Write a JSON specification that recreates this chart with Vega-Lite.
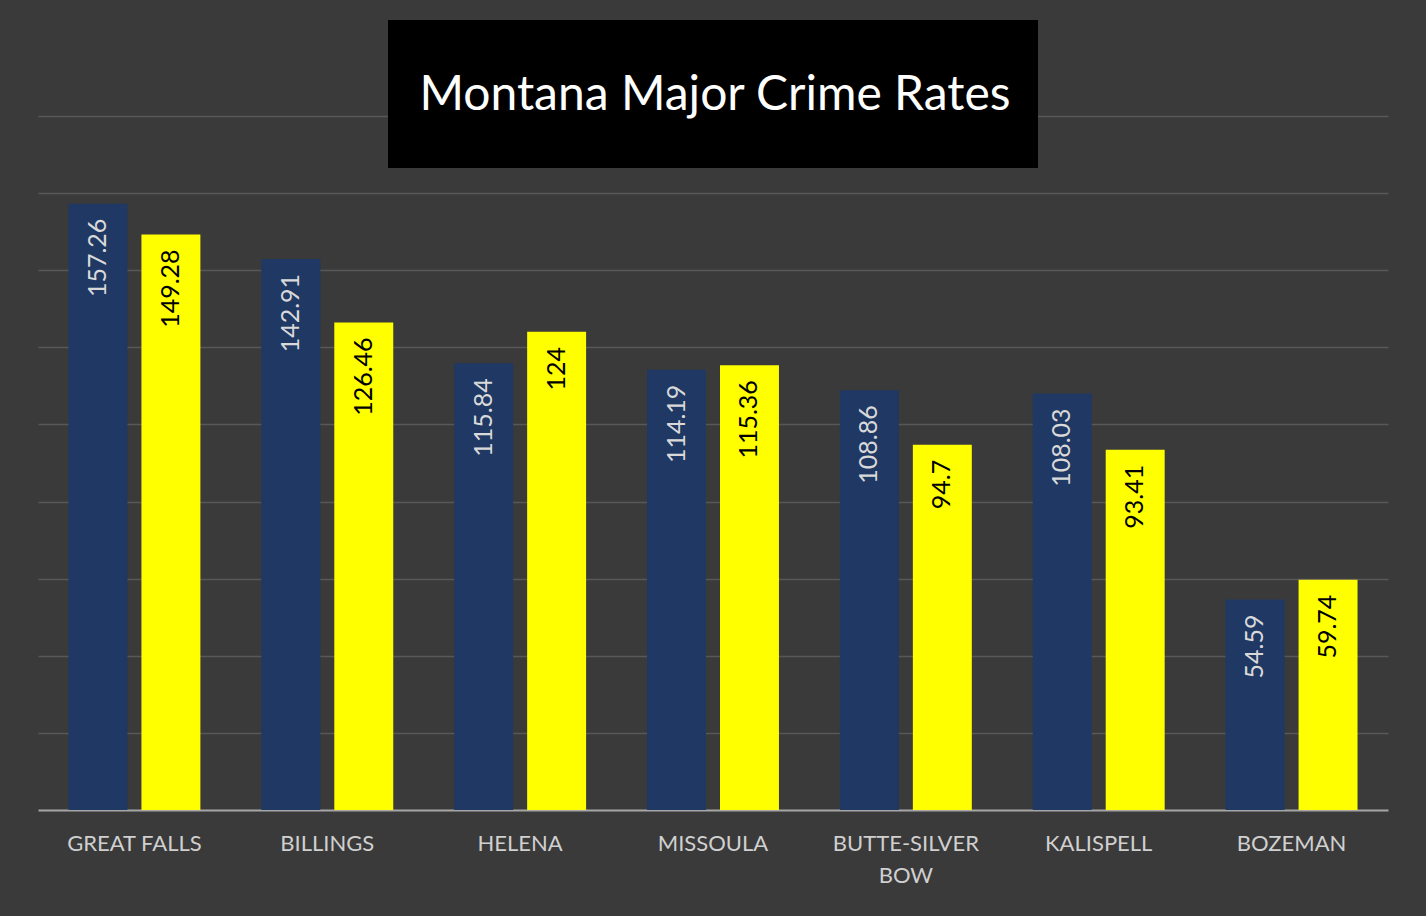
{
  "$schema": "https://vega.github.io/schema/vega-lite/v6.json",
  "background": "#3a3a3a",
  "padding": {"left": 38, "right": 38, "top": 20, "bottom": 40},
  "spacing": 0,
  "config": {"font": "Lato", "view": {"stroke": null}},
  "datasets": {
    "crime": [
      {"city": "GREAT FALLS", "series": "Series 1", "value": 157.26},
      {"city": "GREAT FALLS", "series": "Series 2", "value": 149.28},
      {"city": "BILLINGS", "series": "Series 1", "value": 142.91},
      {"city": "BILLINGS", "series": "Series 2", "value": 126.46},
      {"city": "HELENA", "series": "Series 1", "value": 115.84},
      {"city": "HELENA", "series": "Series 2", "value": 124},
      {"city": "MISSOULA", "series": "Series 1", "value": 114.19},
      {"city": "MISSOULA", "series": "Series 2", "value": 115.36},
      {"city": "BUTTE-SILVER BOW", "series": "Series 1", "value": 108.86},
      {"city": "BUTTE-SILVER BOW", "series": "Series 2", "value": 94.7},
      {"city": "KALISPELL", "series": "Series 1", "value": 108.03},
      {"city": "KALISPELL", "series": "Series 2", "value": 93.41},
      {"city": "BOZEMAN", "series": "Series 1", "value": 54.59},
      {"city": "BOZEMAN", "series": "Series 2", "value": 59.74}
    ],
    "title": [{"title": "Montana Major Crime Rates"}]
  },
  "vconcat": [
    {
      "width": 1350,
      "height": 148,
      "data": {"name": "title"},
      "encoding": {
        "x": {"field": "title", "type": "nominal", "scale": {"paddingInner": 0, "paddingOuter": 0.5385}, "axis": null}
      },
      "layer": [
        {
          "mark": {"type": "bar", "color": "#000000"},
          "encoding": {
            "y": {
              "datum": 204.9, "type": "quantitative",
              "scale": {"domain": [166.5, 204.9], "nice": false, "zero": false},
              "axis": {"title": null, "labels": false, "ticks": false, "domain": false, "grid": true, "gridColor": "#585858", "gridWidth": 1.5, "values": [180]}
            },
            "y2": {"datum": 166.5}
          }
        },
        {
          "mark": {"type": "text", "fontSize": 48, "color": "#ffffff", "font": "Lato", "baseline": "middle", "align": "center", "dy": 2, "dx": 2},
          "encoding": {"text": {"field": "title", "type": "nominal"}}
        }
      ]
    },
    {
      "width": 1350,
      "height": 642,
      "data": {"name": "crime"},
      "encoding": {
        "x": {
          "field": "city", "type": "nominal", "sort": null,
          "scale": {"paddingInner": 0.316, "paddingOuter": 0.158},
          "axis": {
            "title": null, "labelAngle": 0, "labelFontSize": 22, "labelColor": "#d0d0d0",
            "labelFont": "Lato", "labelPadding": 23, "ticks": false,
            "domainColor": "#a6a6a6", "domainWidth": 2, "grid": false,
            "labelLineHeight": 32, "labelBaseline": "top",
            "labelExpr": "datum.label == 'BUTTE-SILVER BOW' ? ['BUTTE-SILVER', 'BOW'] : datum.label"
          }
        },
        "xOffset": {"field": "series", "type": "nominal", "sort": null, "scale": {"paddingInner": 0.192, "paddingOuter": 0}},
        "y": {
          "field": "value", "type": "quantitative",
          "scale": {"domain": [0, 166.5], "nice": false},
          "axis": {
            "title": null, "labels": false, "ticks": false, "domain": false,
            "grid": true, "gridColor": "#585858", "gridWidth": 1.5,
            "values": [20, 40, 60, 80, 100, 120, 140, 160]
          }
        }
      },
      "layer": [
        {
          "mark": {"type": "bar"},
          "encoding": {
            "color": {"field": "series", "type": "nominal", "scale": {"range": ["#1f3864", "#ffff00"]}, "legend": null}
          }
        },
        {
          "mark": {"type": "text", "angle": 270, "align": "right", "baseline": "middle", "dx": -15, "fontSize": 25, "font": "Lato"},
          "encoding": {
            "text": {"field": "value", "type": "nominal"},
            "color": {"condition": {"test": "datum.series === 'Series 1'", "value": "#d9d9d9"}, "value": "#000000"}
          }
        }
      ]
    }
  ]
}
